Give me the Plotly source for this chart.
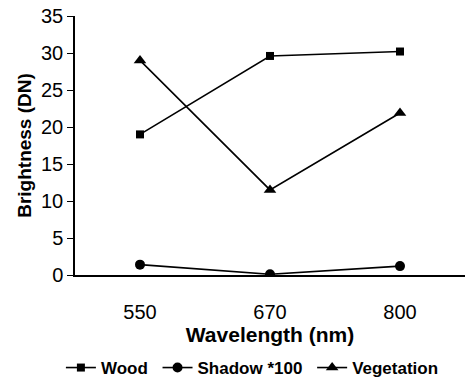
import plotly.graph_objects as go

wavelengths = ["550", "670", "800"]
wood = [19.0, 29.6, 30.2]
shadow = [1.4, 0.1, 1.2]
vegetation = [29.0, 11.5, 21.9]

pad = "\u00a0"
fig = go.Figure()
series = [("Wood", wood, "square", 8), ("Shadow *100", shadow, "circle", 10), ("Vegetation", vegetation, "triangle-up", 11)]
for name, vals, sym, sz in series:
    fig.add_trace(go.Scatter(x=wavelengths, y=vals, name=name + pad, mode="lines+markers",
                             line=dict(color="black", width=1.6),
                             marker=dict(symbol=sym, size=sz, color="black")))

fig.update_layout(
    width=465, height=386,
    margin=dict(l=75, r=0, t=16, b=108),
    paper_bgcolor="white", plot_bgcolor="white",
    font=dict(family="Liberation Sans, Arial", color="black", size=20),
    showlegend=True,
    legend=dict(orientation="h", x=0.46, xanchor="center", y=-0.36, yanchor="middle",
                font=dict(size=17, family="Liberation Sans, Arial", weight="bold"),
                itemwidth=30, tracegroupgap=0),
    xaxis=dict(type="category", range=[-0.5, 2.5], showline=True, linecolor="black", linewidth=1.5,
               ticks="outside", ticklen=18, tickcolor="rgba(0,0,0,0)", showgrid=False,
               tickfont=dict(size=20),
               title=dict(text="<b>Wavelength (nm)</b>", font=dict(size=21), standoff=6)),
    yaxis=dict(range=[0, 35], dtick=5, showline=True, linecolor="black", linewidth=1.5,
               ticks="outside", ticklen=6, tickcolor="black", showgrid=False, zeroline=False,
               tickfont=dict(size=20),
               title=dict(text="<b>Brightness (DN)</b>", font=dict(size=19), standoff=4)),
)
fig.write_html("out.html")
